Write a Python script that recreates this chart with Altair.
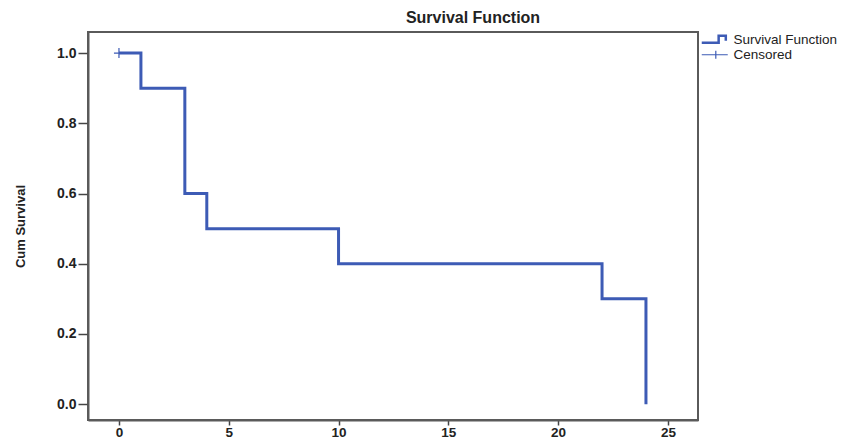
import altair as alt
import pandas as pd

# Kaplan-Meier step data
times = [0, 1, 3, 4, 10, 22, 24]
survival = [1.0, 0.9, 0.6, 0.5, 0.4, 0.3, 0.0]

censor_times = [0]
censor_surv = [1.0]

series_names = ["Survival Function", "Censored"]
x_ticks = [0, 5, 10, 15, 20, 25]
y_ticks = [0.0, 0.2, 0.4, 0.6, 0.8, 1.0]

BLUE = "#3d5bb5"
FRAME = "#5a5a5a"

km = pd.DataFrame({"time": times, "surv": survival})
cens = pd.DataFrame({"time": censor_times, "surv": censor_surv, "series": ["Censored"] * len(censor_times)})

xscale = alt.Scale(domain=[-1.41, 26.37], nice=False, zero=False)
yscale = alt.Scale(domain=[-0.045, 1.06], nice=False, zero=False)

xaxis = alt.Axis(values=x_ticks, title=None, grid=False, tickSize=5, labelPadding=0,
                 labelFontSize=13.5)
yaxis = alt.Axis(values=y_ticks, format=".1f", title="Cum Survival", grid=False,
                 tickSize=10, labelPadding=2, titlePadding=29, labelFontSize=14)

# legend glyphs (wider than the nominal symbol box)
step_path = "M-2.6,0.6L0.78,0.6L0.78,-0.78L2.21,-0.78L2.21,0.21"
plus_path = "M-2.6,0L2.6,0M0.21,-0.78L0.21,0.78"

line = alt.Chart(km).mark_line(interpolate="step-after", color=BLUE, strokeWidth=3).encode(
    x=alt.X("time:Q", scale=xscale, axis=xaxis),
    y=alt.Y("surv:Q", scale=yscale, axis=yaxis),
)

points = alt.Chart(cens).mark_point(filled=False, size=100, opacity=1,
                                    shape="M-1,0L1,0M0,-1L0,1", color=BLUE,
                                    strokeWidth=1.2).encode(
    x=alt.X("time:Q", scale=xscale, axis=xaxis),
    y=alt.Y("surv:Q", scale=yscale, axis=yaxis),
)

legend_cfg = dict(
    title=None, orient="none", legendX=620, legendY=1, padding=0,
    values=series_names,
    symbolSize=100,
    symbolFillColor="transparent", symbolStrokeColor=BLUE,
    symbolOpacity=1,
    labelFont="Liberation Sans", labelFontSize=13.5,
    labelColor="#222222", labelOffset=12, rowPadding=-2,
)

# invisible layer carrying the legend
leg = alt.Chart(cens).mark_point(opacity=0).encode(
    x=alt.X("time:Q", scale=xscale, axis=xaxis),
    y=alt.Y("surv:Q", scale=yscale, axis=yaxis),
    shape=alt.Shape("series:N",
                    scale=alt.Scale(domain=series_names, range=[step_path, plus_path]),
                    legend=alt.Legend(**legend_cfg)),
    strokeWidth=alt.StrokeWidth("series:N",
                                scale=alt.Scale(domain=series_names, range=[2.5, 1.2]),
                                legend=alt.Legend(**legend_cfg)),
)

chart = alt.layer(line, points, leg).properties(
    width=610,
    height=388,
    background="white",
    title=alt.TitleParams("Survival Function", anchor="middle", dx=80, offset=6,
                          font="Liberation Sans", fontSize=16, fontWeight="bold",
                          color="#222222"),
    padding={"left": 80, "top": 24, "right": 150, "bottom": 18},
    autosize=alt.AutoSizeParams(type="none"),
).configure_view(
    stroke=FRAME, strokeWidth=2
).configure_axis(
    labelFont="Liberation Sans", labelFontWeight="bold",
    labelColor="#222222", tickColor="#444444", tickWidth=1.5,
    domainColor=FRAME, domainWidth=2,
    titleFont="Liberation Sans", titleFontSize=13, titleFontWeight="bold",
    titleColor="#222222",
)

chart.save("out.html", embed_options={"renderer": "svg", "actions": False})
